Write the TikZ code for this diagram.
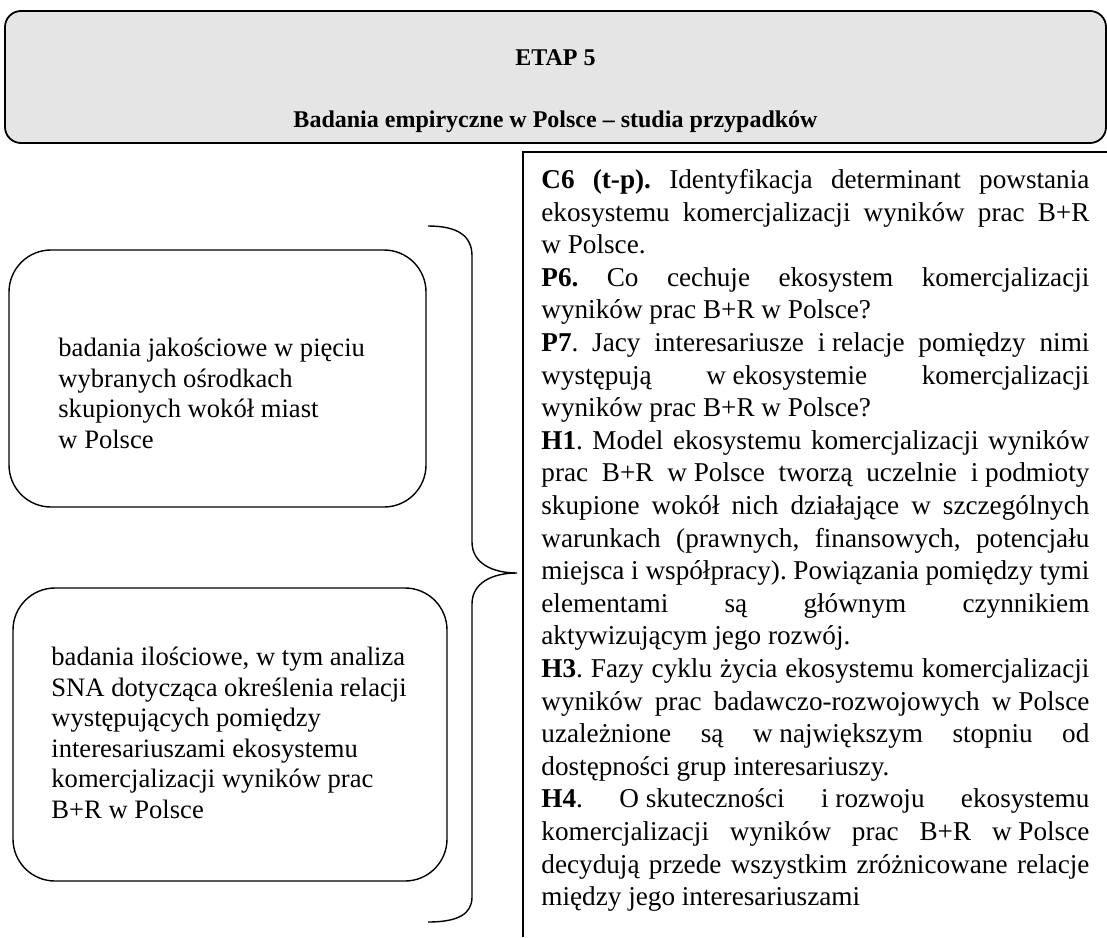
\documentclass[tikz,border=0pt]{standalone}
\usepackage{fontspec}
\setmainfont{Liberation Serif}
\usepackage{tikz}
\tolerance=10000
\hyphenpenalty=10000
\exhyphenpenalty=10000
\frenchspacing

\begin{document}
\begin{tikzpicture}[x=0.5pt, y=-0.5pt,
  etapbox/.style={draw, line width=0.9pt, fill=black!10, rounded corners=8pt, inner sep=0pt},
  badbox/.style={draw, line width=0.7pt, rounded corners=21pt, inner sep=0pt},
  badtxt/.style={anchor=north west, inner sep=0pt, align=left, font=\fontsize{13.3}{15.25}\selectfont},
  tytul/.style={anchor=base, inner sep=0pt, font=\fontsize{12}{14}\selectfont\bfseries}]

\useasboundingbox (0,0) rectangle (1107,937);

\node[etapbox, minimum width=550.5pt, minimum height=66pt] (etap) at (555.5,77) {};
\node[tytul] (etapnr) at (555.5,65) {ETAP 5};
\node[tytul] (etaptytul) at (555.5,127) {Badania empiryczne w Polsce – studia przypadków};

\node[badbox, minimum width=208.5pt, minimum height=128.5pt] (jakosc) at (217.5,378.5) {};
\node[badtxt] (jakosctxt) at (58,338) {badania jakościowe w pięciu\\ wybranych ośrodkach\\ skupionych wokół miast\\ w Polsce};

\node[badbox, minimum width=217pt, minimum height=146.5pt] (ilosc) at (230,734.5) {};
\node[badtxt] (ilosctxt) at (51,647) {badania ilościowe, w tym analiza\\ SNA dotycząca określenia relacji\\ występujących pomiędzy\\ interesariuszami ekosystemu\\ komercjalizacji wyników prac\\ B+R w Polsce};

\draw[line width=0.7pt] (428,226) .. controls (458,226) and (472,236) .. (472,256) -- (472,542)
  .. controls (472,563) and (492,573) .. (517,573) .. controls (492,573) and (472,583) .. (472,604)
  -- (472,897) .. controls (472,914) and (458,922) .. (428,922);

\draw[line width=0.9pt] (523,937) -- (523,152) -- (1107,152);

\node[anchor=north west, inner sep=0pt, text width=274pt, align=justify, font=\fontsize{13.6}{16.3}\selectfont] (cele) at (541,169) {%
\noindent\textbf{C6 (t-p).} Identyfikacja determinant powstania\linebreak
ekosystemu komercjalizacji wyników prac B+R\linebreak
\mbox{w Polsce.}\\
\textbf{P6.} Co cechuje ekosystem komercjalizacji\linebreak
wyników prac B+R \mbox{w Polsce?}\\
\textbf{P7}. Jacy interesariusze \mbox{i relacje} pomiędzy nimi\linebreak
występują \mbox{w ekosystemie} komercjalizacji\linebreak
wyników prac B+R \mbox{w Polsce?}\\
\textbf{H1}. Model ekosystemu komercjalizacji wyników\linebreak
prac B+R \mbox{w Polsce} tworzą uczelnie \mbox{i podmioty}\linebreak
skupione wokół nich działające w szczególnych\linebreak
warunkach (prawnych, finansowych, potencjału\linebreak
miejsca \mbox{i współpracy}). Powiązania pomiędzy tymi\linebreak
elementami są głównym czynnikiem\linebreak
aktywizującym jego rozwój.\\
\textbf{H3}. Fazy cyklu życia ekosystemu komercjalizacji\linebreak
wyników prac badawczo-rozwojowych \mbox{w Polsce}\linebreak
uzależnione są \mbox{w największym} stopniu od\linebreak
dostępności grup interesariuszy.\\
\textbf{H4}. \mbox{O skuteczności} \mbox{i rozwoju} ekosystemu\linebreak
komercjalizacji wyników prac B+R \mbox{w Polsce}\linebreak
decydują przede wszystkim zróżnicowane relacje\linebreak
między jego interesariuszami};

\end{tikzpicture}
\end{document}
